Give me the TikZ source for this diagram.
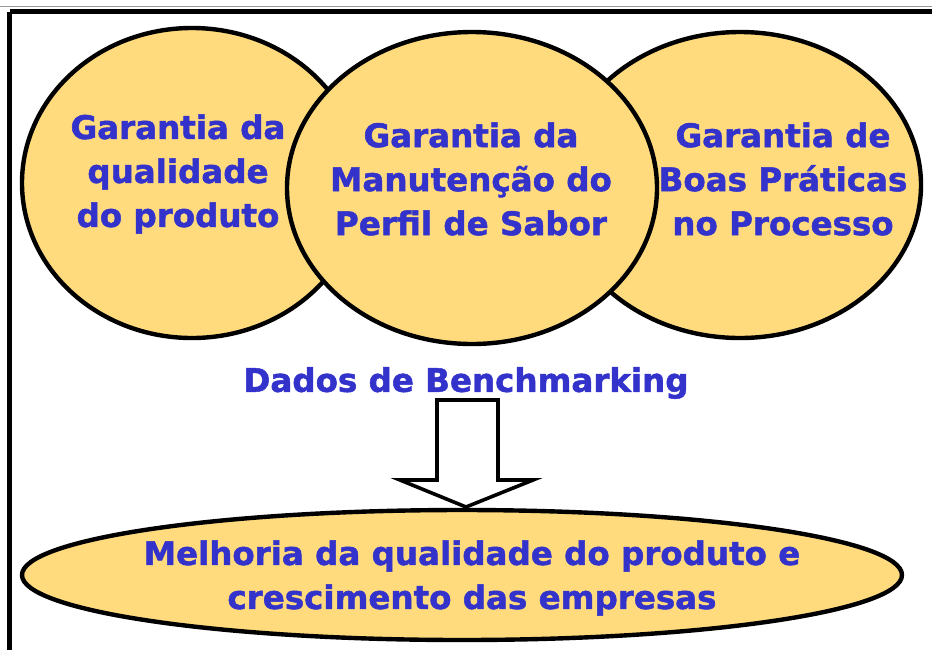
\documentclass[tikz,border=0pt]{standalone}
\usepackage{fontspec}
\setmainfont{DejaVu Sans}[BoldFeatures={FakeBold=1.5}]
\definecolor{fillyel}{HTML}{FFDB7E}
\definecolor{txtblue}{HTML}{3333CC}
\begin{document}
\begin{tikzpicture}[x=1pt,y=-1pt,
  bubble/.style={draw=black,line width=4.4pt,fill=fillyel},
  lbl/.style={text=txtblue,font=\fontsize{32.5}{44}\selectfont\bfseries,align=center,inner sep=0pt},
  bigarrow/.style={draw=black,line width=3.6pt,fill=white,line join=miter}]
\useasboundingbox (0,0) rectangle (932,649);
\clip (0,0) rectangle (932,649);
% frame
\draw[line width=5pt] (9.5,11.5) -- (960,11.5);
\draw[line width=5pt] (9.5,11.5) -- (9.5,680);
\draw[line width=0.8pt,black!40] (0,6.5) -- (960,6.5);
% circles
\draw[bubble] (192,183) ellipse [x radius=170,y radius=155];
\draw[bubble] (740,185) ellipse [x radius=181,y radius=153];
\draw[bubble] (472,188) ellipse [x radius=185,y radius=156];
\node[lbl] (t1) at (178,174) {Garantia da\\qualidade\\do produto};
\node[lbl] (t2) at (471,179) {Garantia da\\Manutenção do\\Perfil de Sabor};
\node[lbl] (t3) at (783,179) {Garantia de\\Boas Práticas\\no Processo};
\node[lbl] (bench) at (466,383) {Dados de Benchmarking};
% bottom ellipse
\draw[bubble] (462,575) ellipse [x radius=440,y radius=65];
\node[lbl] (res) at (472,578) {Melhoria da qualidade do produto e\\crescimento das empresas};
% arrow
\coordinate (atip) at (466,507);
\draw[bigarrow] (437,400) -- (498,400) -- (498,480) -- (533,480) -- (atip) -- (400,480) -- (437,480) -- cycle;
\end{tikzpicture}
\end{document}
